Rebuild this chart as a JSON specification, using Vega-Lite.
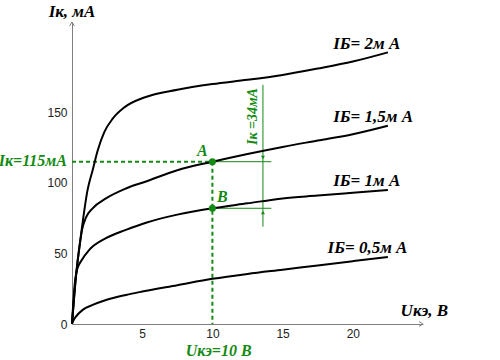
{
  "$schema": "https://vega.github.io/schema/vega-lite/v6.json",
  "width": 351,
  "height": 302,
  "autosize": {"type": "none"},
  "padding": {"left": 72, "top": 22, "right": 77, "bottom": 36},
  "background": "white",
  "config": {"view": {"stroke": null}},
  "datasets": {
    "vgrid": [{"u": 2.5}, {"u": 5}, {"u": 7.5}, {"u": 10}, {"u": 12.5}, {"u": 15}, {"u": 17.5}, {"u": 20}, {"u": 22.5}],
    "hgrid": [{"i": 25}, {"i": 50}, {"i": 75}, {"i": 100}, {"i": 125}, {"i": 150}, {"i": 175}, {"i": 200}],
    "curves": [
      {"ib": "2", "u": 0, "i": 0}, {"ib": "2", "u": 0.28, "i": 33.5}, {"ib": "2", "u": 0.64, "i": 63}, {"ib": "2", "u": 1.11, "i": 95},
      {"ib": "2", "u": 1.47, "i": 109}, {"ib": "2", "u": 1.83, "i": 123}, {"ib": "2", "u": 2.3, "i": 136}, {"ib": "2", "u": 2.9, "i": 145.5},
      {"ib": "2", "u": 3.73, "i": 153.5}, {"ib": "2", "u": 5.15, "i": 160.5}, {"ib": "2", "u": 7.5, "i": 166}, {"ib": "2", "u": 10, "i": 170},
      {"ib": "2", "u": 12.5, "i": 173}, {"ib": "2", "u": 15, "i": 176.5}, {"ib": "2", "u": 17.5, "i": 181}, {"ib": "2", "u": 20, "i": 186},
      {"ib": "2", "u": 22.5, "i": 192.5},
      {"ib": "1.5", "u": 0, "i": 0}, {"ib": "1.5", "u": 0.28, "i": 33.5}, {"ib": "1.5", "u": 0.55, "i": 56}, {"ib": "1.5", "u": 0.71, "i": 66.5},
      {"ib": "1.5", "u": 1.0, "i": 75.5}, {"ib": "1.5", "u": 1.47, "i": 82}, {"ib": "1.5", "u": 2.42, "i": 89}, {"ib": "1.5", "u": 3.84, "i": 96},
      {"ib": "1.5", "u": 5.27, "i": 101}, {"ib": "1.5", "u": 7.5, "i": 109}, {"ib": "1.5", "u": 10, "i": 115}, {"ib": "1.5", "u": 12.5, "i": 120.5},
      {"ib": "1.5", "u": 15, "i": 125.5}, {"ib": "1.5", "u": 17.5, "i": 130}, {"ib": "1.5", "u": 20, "i": 134.5}, {"ib": "1.5", "u": 22.5, "i": 140.5},
      {"ib": "1", "u": 0, "i": 0}, {"ib": "1", "u": 0.2, "i": 29}, {"ib": "1", "u": 0.3, "i": 36}, {"ib": "1", "u": 0.45, "i": 41},
      {"ib": "1", "u": 0.64, "i": 44.5}, {"ib": "1", "u": 1.23, "i": 52.5}, {"ib": "1", "u": 2.42, "i": 60.8}, {"ib": "1", "u": 3.84, "i": 66.7},
      {"ib": "1", "u": 5.27, "i": 71.8}, {"ib": "1", "u": 7.5, "i": 77.5}, {"ib": "1", "u": 10, "i": 82}, {"ib": "1", "u": 12.5, "i": 85.5},
      {"ib": "1", "u": 15, "i": 89}, {"ib": "1", "u": 17.5, "i": 91}, {"ib": "1", "u": 20, "i": 93}, {"ib": "1", "u": 22.5, "i": 95},
      {"ib": "0.5", "u": 0, "i": 0}, {"ib": "0.5", "u": 0.1, "i": 2.5}, {"ib": "0.5", "u": 0.28, "i": 5.2}, {"ib": "0.5", "u": 0.76, "i": 10},
      {"ib": "0.5", "u": 1.47, "i": 13.5}, {"ib": "0.5", "u": 2.42, "i": 17}, {"ib": "0.5", "u": 3.84, "i": 20.6}, {"ib": "0.5", "u": 5, "i": 23},
      {"ib": "0.5", "u": 7.5, "i": 27.5}, {"ib": "0.5", "u": 10, "i": 32}, {"ib": "0.5", "u": 12.5, "i": 35.5}, {"ib": "0.5", "u": 15, "i": 38.5},
      {"ib": "0.5", "u": 17.5, "i": 41.5}, {"ib": "0.5", "u": 20, "i": 44.5}, {"ib": "0.5", "u": 22.5, "i": 47.5}
    ],
    "curveLabels": [
      {"u": 18.6, "i": 198.6, "t": "IБ= 2м А"},
      {"u": 18.6, "i": 146.5, "t": "IБ= 1,5м А"},
      {"u": 18.6, "i": 101.4, "t": "IБ= 1м А"},
      {"u": 18.2, "i": 53.9, "t": "IБ= 0,5м А"}
    ],
    "axisTitles": [
      {"u": 0, "i": 221, "t": "Iк, мА"},
      {"u": 25.1, "i": 9.2, "t": "Uкэ, В"}
    ],
    "dashH": [{"u": 0, "i": 115, "u2": 10, "i2": 115}, {"u": 10, "i": 115, "u2": 10, "i2": 0}],
    "solid": [{"u": 10, "i": 115, "u2": 14.2, "i2": 115}, {"u": 10, "i": 82, "u2": 14.2, "i2": 82}, {"u": 13.6, "i": 169.5, "u2": 13.6, "i2": 69}],
    "pts": [{"u": 10, "i": 115}, {"u": 10, "i": 82}],
    "arrDown": [{"u": 13.6, "i": 118}],
    "arrUp": [{"u": 13.6, "i": 79}],
    "greenLabels": [
      {"u": 9.29, "i": 122.7, "t": "A"},
      {"u": 10.7, "i": 89.7, "t": "B"},
      {"u": 10.45, "i": -19, "t": "Uкэ=10 В"}
    ],
    "ikLabel": [{"u": -0.36, "i": 115.2, "t": "Iк=115мА"}],
    "dimLabel": [{"u": 12.9, "i": 147, "t": "Iк =34мА"}],
    "xArrow": [{"u": 25, "i": 0}],
    "yArrow": [{"u": 0, "i": 214}]
  },
  "encoding": {
    "x": {
      "field": "u", "type": "quantitative",
      "scale": {"domain": [0, 25], "nice": false, "zero": false},
      "axis": {"title": null, "values": [5, 10, 15, 20], "grid": false, "ticks": false, "domainColor": "#808080", "domainWidth": 1,
        "labelFont": "Liberation Sans", "labelFontSize": 12, "labelColor": "#222222", "labelPadding": 4}
    },
    "y": {
      "field": "i", "type": "quantitative",
      "scale": {"domain": [0, 214], "nice": false, "zero": false},
      "axis": {"title": null, "values": [0, 50, 100, 150], "grid": false, "ticks": false, "domainColor": "#808080", "domainWidth": 1,
        "labelFont": "Liberation Sans", "labelFontSize": 12, "labelColor": "#222222", "labelPadding": 5}
    }
  },
  "layer": [
    {"data": {"name": "vgrid"}, "mark": {"type": "rule", "color": "#c4c4c4", "strokeWidth": 1},
      "encoding": {"y": {"datum": 0}, "y2": {"datum": 200}}},
    {"data": {"name": "hgrid"}, "mark": {"type": "rule", "color": "#c4c4c4", "strokeWidth": 1},
      "encoding": {"x": {"datum": 0}, "x2": {"datum": 22.5}}},
    {"data": {"name": "xArrow"}, "mark": {"type": "point", "shape": "M-1,-0.6L0,0L-1,0.6", "filled": false, "stroke": "#808080", "strokeWidth": 1, "size": 64, "opacity": 1}},
    {"data": {"name": "yArrow"}, "mark": {"type": "point", "shape": "M-0.6,1L0,0L0.6,1", "filled": false, "stroke": "#808080", "strokeWidth": 1, "size": 64, "opacity": 1}},
    {"data": {"name": "dashH"}, "mark": {"type": "rule", "color": "#138a13", "strokeWidth": 2, "strokeDash": [4, 3]},
      "encoding": {"x2": {"field": "u2"}, "y2": {"field": "i2"}}},
    {"data": {"name": "solid"}, "mark": {"type": "rule", "color": "#138a13", "strokeWidth": 1},
      "encoding": {"x2": {"field": "u2"}, "y2": {"field": "i2"}}},
    {"data": {"name": "curves"}, "mark": {"type": "line", "color": "black", "strokeWidth": 2, "interpolate": "monotone"},
      "encoding": {"detail": {"field": "ib"}}},
    {"data": {"name": "pts"}, "mark": {"type": "circle", "color": "#138a13", "size": 50, "opacity": 1}},
    {"data": {"name": "arrDown"}, "mark": {"type": "point", "shape": "triangle-down", "filled": true, "color": "#138a13", "size": 16, "opacity": 1}},
    {"data": {"name": "arrUp"}, "mark": {"type": "point", "shape": "triangle-up", "filled": true, "color": "#138a13", "size": 16, "opacity": 1}},
    {"data": {"name": "curveLabels"}, "mark": {"type": "text", "align": "left", "baseline": "middle", "font": "Liberation Serif", "fontStyle": "italic", "fontWeight": "bold", "fontSize": 17, "color": "black"},
      "encoding": {"text": {"field": "t"}}},
    {"data": {"name": "axisTitles"}, "mark": {"type": "text", "align": "center", "baseline": "middle", "font": "Liberation Serif", "fontStyle": "italic", "fontWeight": "bold", "fontSize": 17, "color": "black"},
      "encoding": {"text": {"field": "t"}}},
    {"data": {"name": "greenLabels"}, "mark": {"type": "text", "align": "center", "baseline": "middle", "font": "Liberation Serif", "fontStyle": "italic", "fontWeight": "bold", "fontSize": 16, "color": "#138a13"},
      "encoding": {"text": {"field": "t"}}},
    {"data": {"name": "ikLabel"}, "mark": {"type": "text", "align": "right", "baseline": "middle", "font": "Liberation Serif", "fontStyle": "italic", "fontWeight": "bold", "fontSize": 16, "color": "#138a13"},
      "encoding": {"text": {"field": "t"}}},
    {"data": {"name": "dimLabel"}, "mark": {"type": "text", "align": "center", "baseline": "middle", "angle": 270, "font": "Liberation Serif", "fontStyle": "italic", "fontWeight": "bold", "fontSize": 14, "color": "#138a13"},
      "encoding": {"text": {"field": "t"}}}
  ]
}
